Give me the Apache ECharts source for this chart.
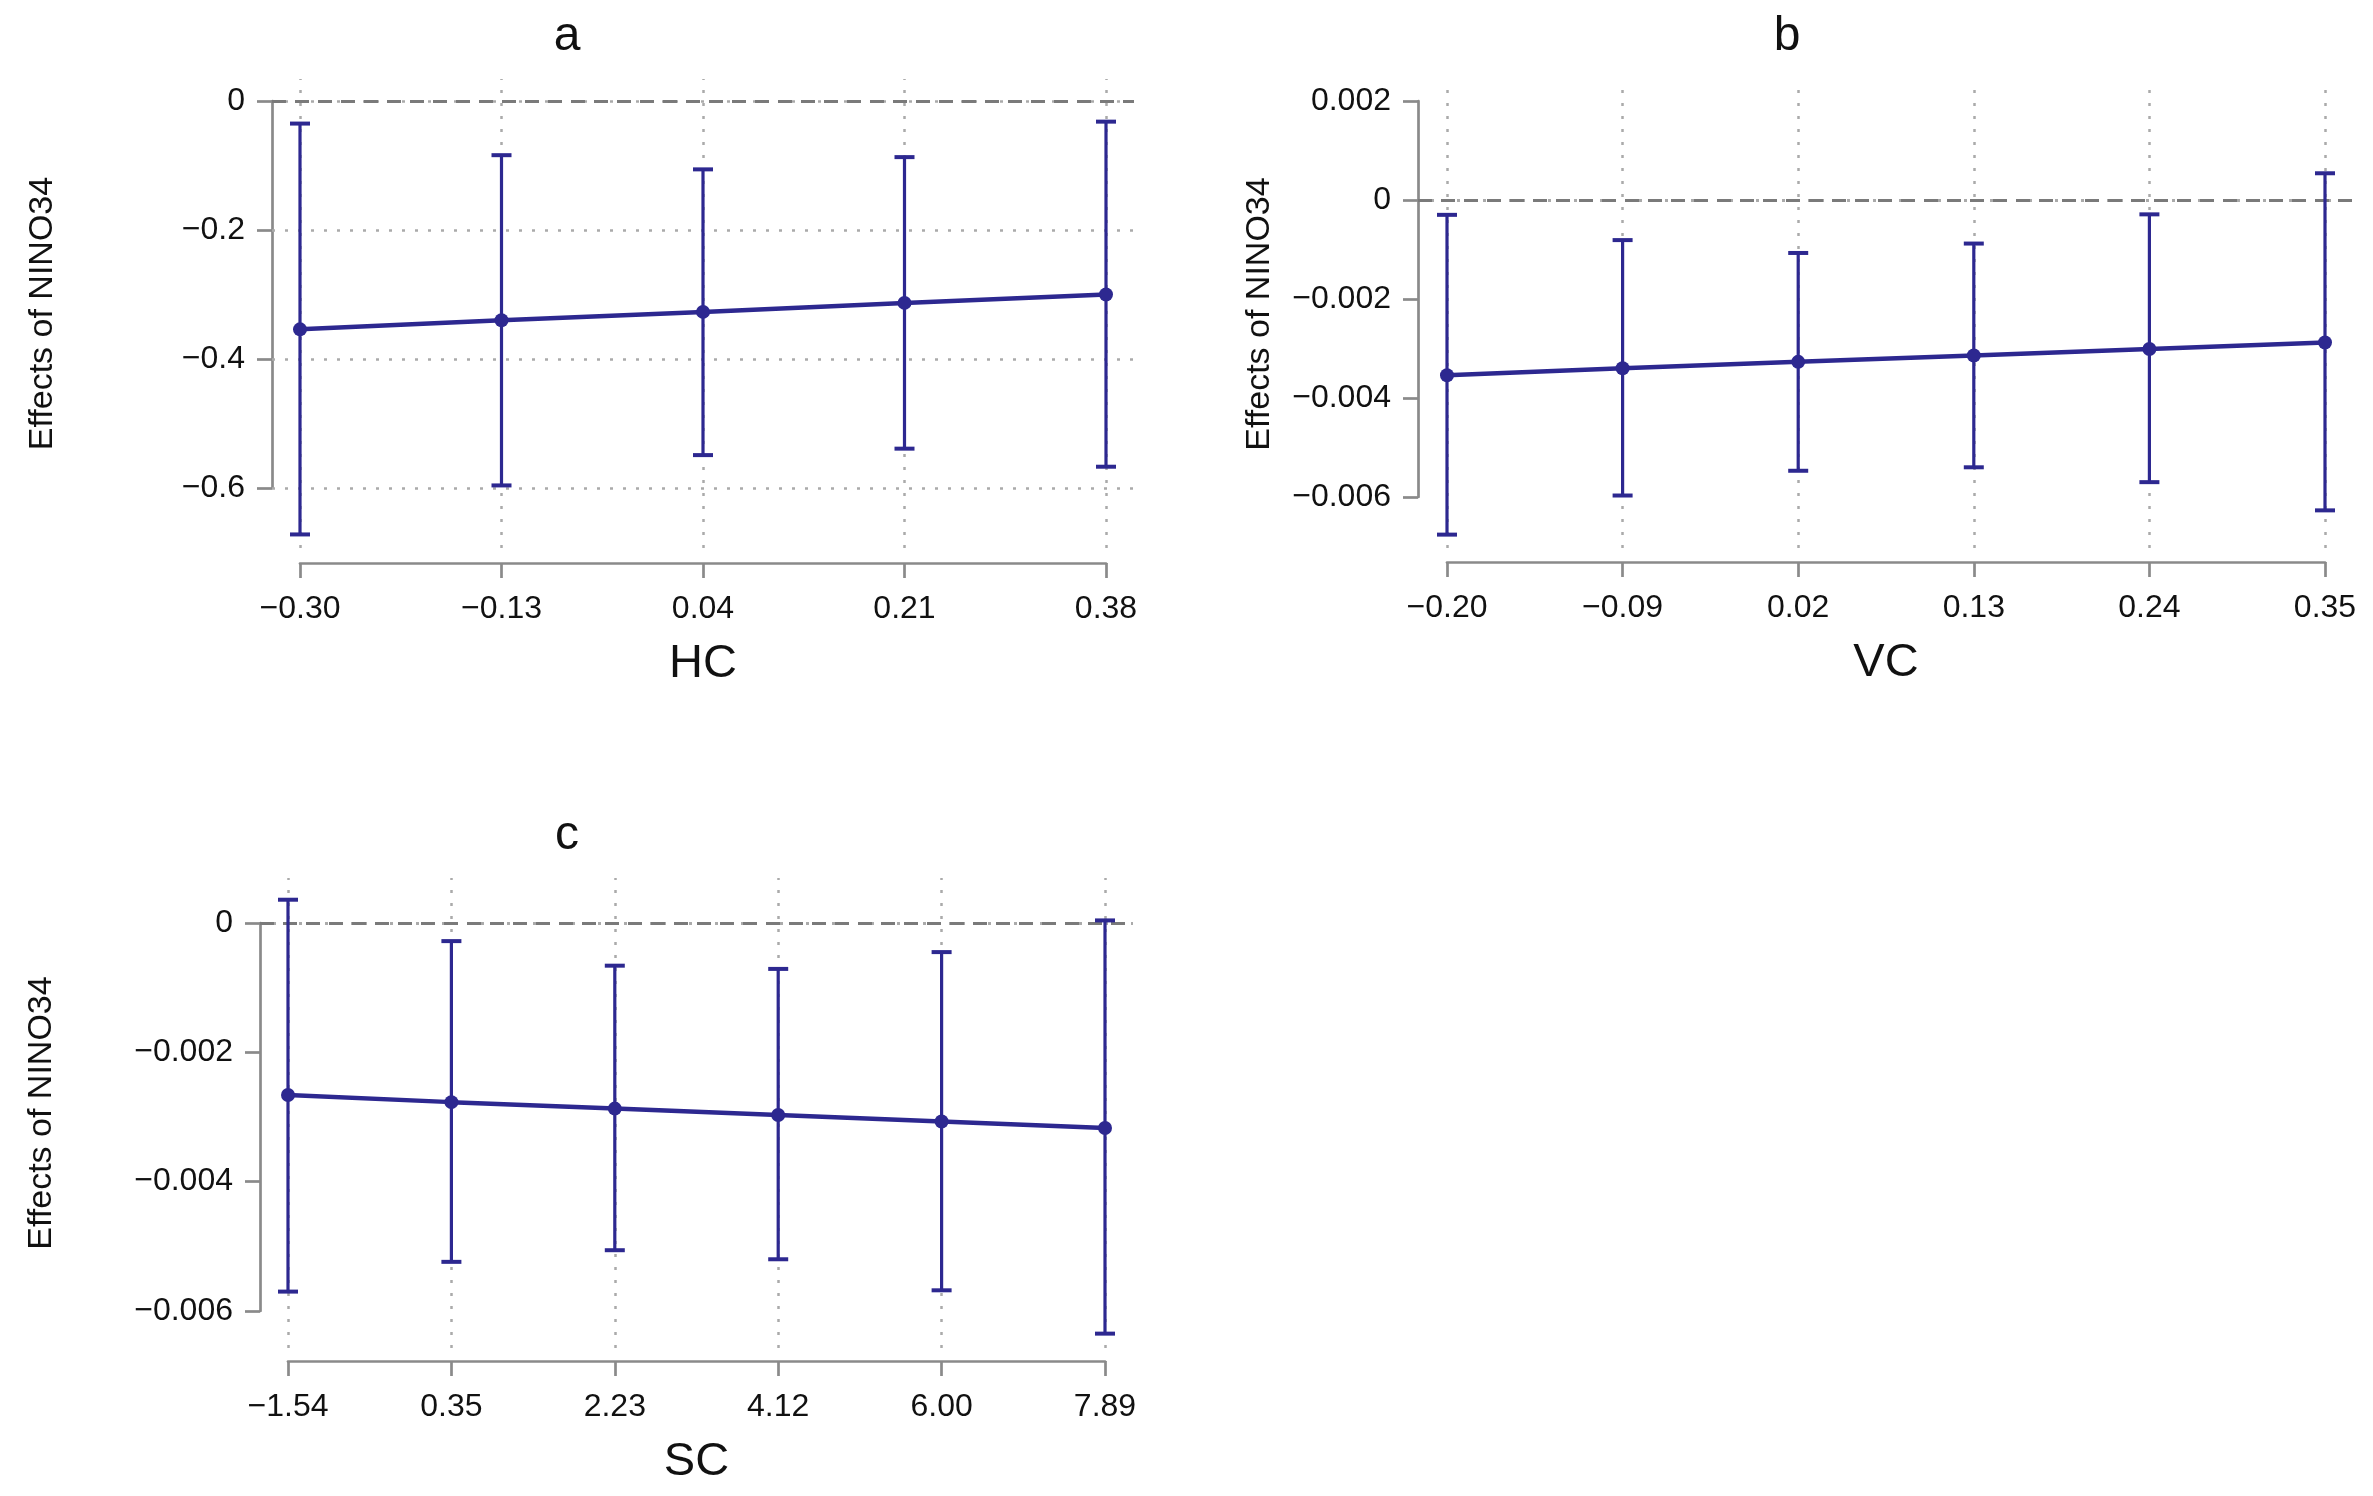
<!DOCTYPE html>
<html>
<head>
<meta charset="utf-8">
<script src="https://cdn.jsdelivr.net/npm/echarts@6/dist/echarts.min.js"></script>
<style>
html,body{margin:0;padding:0;background:#fff;}
#chart{width:2373px;height:1496px;}
</style>
</head>
<body>
<div id="chart"></div>
<script>
// ---------- data ----------
// Panel a : HC
const hcLabels = ['−0.30', '−0.13', '0.04', '0.21', '0.38'];
const hcEffect = [-0.354, -0.340, -0.327, -0.313, -0.300];
const hcLower  = [-0.672, -0.596, -0.549, -0.539, -0.567];
const hcUpper  = [-0.035, -0.084, -0.106, -0.087, -0.032];
const hcYTicks = [-0.6, -0.4, -0.2, 0];
const hcYLabels = ['−0.6', '−0.4', '−0.2', '0'];

// Panel b : VC
const vcLabels = ['−0.20', '−0.09', '0.02', '0.13', '0.24', '0.35'];
const vcEffect = [-0.00354, -0.00340, -0.00327, -0.00314, -0.00301, -0.00288];
const vcLower  = [-0.00676, -0.00597, -0.00547, -0.00540, -0.00570, -0.00627];
const vcUpper  = [-0.00030, -0.00081, -0.00107, -0.00088, -0.00029, 0.00054];
const vcYTicks = [-0.006, -0.004, -0.002, 0, 0.002];
const vcYLabels = ['−0.006', '−0.004', '−0.002', '0', '0.002'];

// Panel c : SC
const scLabels = ['−1.54', '0.35', '2.23', '4.12', '6.00', '7.89'];
const scEffect = [-0.00266, -0.00277, -0.00287, -0.00297, -0.00307, -0.00317];
const scLower  = [-0.00570, -0.00524, -0.00506, -0.00520, -0.00568, -0.00635];
const scUpper  = [0.00036, -0.00028, -0.00066, -0.00071, -0.00045, 0.00004];
const scYTicks = [-0.006, -0.004, -0.002, 0];
const scYLabels = ['−0.006', '−0.004', '−0.002', '0'];

const yName = 'Effects of NINO34';

// ---------- layout (pixels) ----------
const panels = [
  { title: 'a', xName: 'HC', labels: hcLabels, effect: hcEffect, lower: hcLower, upper: hcUpper,
    yTicks: hcYTicks, yLabels: hcYLabels,
    plot: [272, 79, 1134, 548], axes: [300, 101, 1106, 488], xAxisY: 563,
    titleXY: [567, 37], yNameGap: 212, xNameGap: 78 },
  { title: 'b', xName: 'VC', labels: vcLabels, effect: vcEffect, lower: vcLower, upper: vcUpper,
    yTicks: vcYTicks, yLabels: vcYLabels,
    plot: [1418, 80, 2353, 548], axes: [1447, 101, 2325, 497], xAxisY: 562,
    titleXY: [1787, 37], yNameGap: 141, xNameGap: 78 },
  { title: 'c', xName: 'SC', labels: scLabels, effect: scEffect, lower: scLower, upper: scUpper,
    yTicks: scYTicks, yLabels: scYLabels,
    plot: [260, 878, 1133, 1348], axes: [288, 923, 1105, 1311], xAxisY: 1361,
    titleXY: [567, 836], yNameGap: 201, xNameGap: 78 }
];

// ---------- styles ----------
const FONT = 'Liberation Sans, Arial, Helvetica, sans-serif';
const SERIES_COLOR = '#2d2890';
const AXIS_COLOR = '#8a8a8a';
const GRID_COLOR = '#aaaaaa';
const TEXT_COLOR = '#111111';

const grid = [], xAxis = [], yAxis = [], series = [], graphic = [];

panels.forEach((p, k) => {
  const n = p.labels.length;
  const [pl, pt, pr, pb] = p.plot;
  const [al, at, ar, ab] = p.axes;
  const yMinT = p.yTicks[0], yMaxT = p.yTicks[p.yTicks.length - 1];
  const pxPerIdx = (ar - al) / (n - 1);
  const pxPerUnit = (ab - at) / (yMaxT - yMinT);
  const xMin = -(al - pl) / pxPerIdx;
  const xMax = (n - 1) + (pr - ar) / pxPerIdx;
  const yMax = yMaxT + (at - pt) / pxPerUnit;
  const yMin = yMinT - (pb - ab) / pxPerUnit;
  const yStep = p.yTicks[1] - p.yTicks[0];

  const yLabelFmt = v => {
    let best = 0, bd = Infinity;
    p.yTicks.forEach((t, i) => { const d = Math.abs(t - v); if (d < bd) { bd = d; best = i; } });
    return p.yLabels[best];
  };

  // data grid
  grid.push({ left: pl, top: pt, width: pr - pl, height: pb - pt, outerBoundsMode: 'none', containLabel: false });
  // axis grid
  grid.push({ left: al, top: at, width: ar - al, height: ab - at, outerBoundsMode: 'none', containLabel: false });

  const gD = 2 * k, gA = 2 * k + 1;
  xAxis.push({ type: 'value', gridIndex: gD, min: xMin, max: xMax, show: false });
  // data-grid y axis: only carries the axis title (centred on the plot region)
  yAxis.push({
    type: 'value', gridIndex: gD, min: yMin, max: yMax, position: 'left', show: true,
    axisLine: { show: false }, axisTick: { show: false }, axisLabel: { show: false }, splitLine: { show: false },
    name: yName, nameLocation: 'middle', nameGap: p.yNameGap, nameRotate: 90,
    nameTextStyle: { fontSize: 34, fontFamily: FONT, color: TEXT_COLOR }
  });

  xAxis.push({
    type: 'value', gridIndex: gA, min: 0, max: n - 1, interval: 1, position: 'bottom',
    offset: p.xAxisY - ab,
    axisLine: { show: true, onZero: false, lineStyle: { color: AXIS_COLOR, width: 2.7 } },
    axisTick: { show: true, length: 15, lineStyle: { color: AXIS_COLOR, width: 2.7 } },
    axisLabel: { show: true, margin: 30, fontSize: 32, fontFamily: FONT, color: TEXT_COLOR,
      formatter: v => p.labels[Math.round(v)] },
    splitLine: { show: false },
    name: p.xName, nameLocation: 'middle', nameGap: p.xNameGap,
    nameTextStyle: { fontSize: 47, fontFamily: FONT, color: TEXT_COLOR }
  });
  yAxis.push({
    type: 'value', gridIndex: gA, min: yMinT, max: yMaxT, interval: yStep, position: 'left',
    offset: al - pl,
    axisLine: { show: true, onZero: false, lineStyle: { color: AXIS_COLOR, width: 2.7 } },
    axisTick: { show: true, length: 15, lineStyle: { color: AXIS_COLOR, width: 2.7 } },
    axisLabel: { show: true, margin: 27, fontSize: 32, fontFamily: FONT, color: TEXT_COLOR,
      formatter: yLabelFmt },
    splitLine: { show: false }
  });

  // gridlines (dotted) and zero reference (dashed)
  const mlData = [];
  for (let i = 0; i < n; i++) {
    mlData.push({ xAxis: i, lineStyle: { color: GRID_COLOR, type: [3, 10], width: 2.5 } });
  }
  p.yTicks.forEach(t => {
    mlData.push({ yAxis: t, lineStyle: { color: GRID_COLOR, type: [3, 10], width: 2.5 } });
  });
  mlData.push({ yAxis: 0, lineStyle: { color: '#7a7a7a', type: [14, 9], width: 3 } });

  series.push({
    type: 'line', xAxisIndex: gD, yAxisIndex: gD, data: [], z: 1, silent: true,
    markLine: { silent: true, z: 1, symbol: ['none', 'none'], label: { show: false },
      emphasis: { disabled: true }, animation: false, data: mlData }
  });

  // error bars
  series.push({
    type: 'custom', xAxisIndex: gD, yAxisIndex: gD, z: 3, silent: true,
    data: p.effect.map((v, i) => [i, p.lower[i], p.upper[i]]),
    renderItem: (params, api) => {
      const x = api.value(0);
      const lo = api.coord([x, api.value(1)]);
      const hi = api.coord([x, api.value(2)]);
      const cap = 10;
      return {
        type: 'group',
        children: [
          { type: 'line', shape: { x1: lo[0], y1: lo[1], x2: hi[0], y2: hi[1] }, style: { stroke: SERIES_COLOR, lineWidth: 3.2 } },
          { type: 'line', shape: { x1: lo[0] - cap, y1: lo[1], x2: lo[0] + cap, y2: lo[1] }, style: { stroke: SERIES_COLOR, lineWidth: 4 } },
          { type: 'line', shape: { x1: hi[0] - cap, y1: hi[1], x2: hi[0] + cap, y2: hi[1] }, style: { stroke: SERIES_COLOR, lineWidth: 4 } }
        ]
      };
    }
  });

  // effect line with points
  series.push({
    type: 'line', xAxisIndex: gD, yAxisIndex: gD, z: 4, silent: true,
    data: p.effect.map((v, i) => [i, v]),
    symbol: 'circle', symbolSize: 14, showSymbol: true,
    lineStyle: { color: SERIES_COLOR, width: 4.5 },
    itemStyle: { color: SERIES_COLOR }
  });

  graphic.push({
    type: 'text', x: p.titleXY[0], y: p.titleXY[1], silent: true,
    style: { text: p.title, fontSize: 48, fontFamily: FONT, fill: TEXT_COLOR, align: 'center', verticalAlign: 'middle' }
  });
});

const chart = echarts.init(document.getElementById('chart'), null, { renderer: 'canvas' });
chart.setOption({
  animation: false,
  backgroundColor: '#ffffff',
  grid, xAxis, yAxis, series, graphic
});
</script>
</body>
</html>
